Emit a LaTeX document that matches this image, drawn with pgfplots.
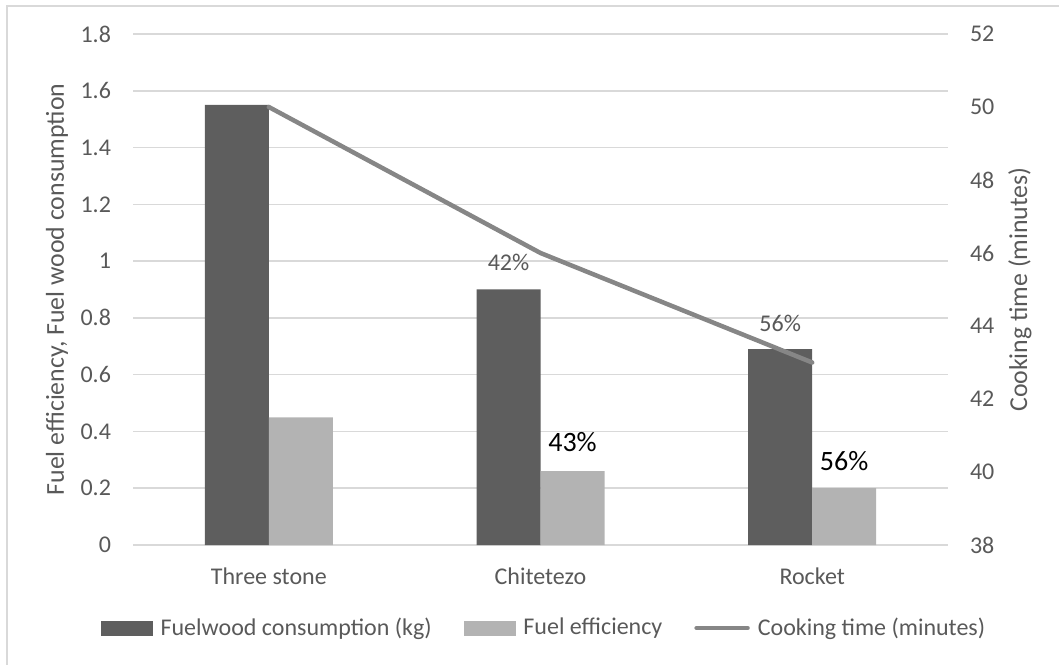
\documentclass[border=0pt]{standalone}
\usepackage{fontspec}
\setmainfont{Carlito}
\usepackage{pgfplots}
\pgfplotsset{compat=1.18}
\definecolor{textc}{HTML}{595959}
\definecolor{gridc}{HTML}{D9D9D9}
\definecolor{fuelwood}{HTML}{5E5E5E}
\definecolor{efficiency}{HTML}{B3B3B3}
\definecolor{cooking}{HTML}{868686}
\newcommand\chartfont{\fontsize{12}{14}\selectfont}
\newcommand\labelfont{\fontsize{12.9}{15}\selectfont}
\begin{document}
\begin{tikzpicture}[x=1pt,y=1pt]
\path[use as bounding box] (0,0) rectangle (529.5,332);
\draw[gridc, line width=0.75pt] (3.5,-2) -- (3.5,329) -- (532,329);
\pgfplotsset{
  stovebase/.style={
    at={(66.5pt,59.5pt)}, anchor=south west,
    scale only axis, width=407.5pt, height=255.5pt,
    xmin=-0.5, xmax=2.5,
    major tick length=0pt,
    tick label style={font=\chartfont, text=textc},
    /pgf/number format/assume math mode=true,
  }
}
% stove comparison: bars on the left scale
\begin{axis}[stovebase,
  ymin=0, ymax=1.8, ytick={0,0.2,0.4,0.6,0.8,1,1.2,1.4,1.6,1.8},
  xtick={0,1,2}, xticklabels={Three stone,Chitetezo,Rocket},
  axis line style={draw=none},
  ymajorgrids, grid style={gridc, line width=0.75pt},
  ybar=0pt, bar width=32pt,
  yticklabel style={anchor=east, xshift=-7.5pt},
  xticklabel style={anchor=north, yshift=-8pt},
  ylabel={Fuel efficiency, Fuel wood consumption},
  every axis y label/.style={at={(axis description cs:-0.0847,0.5)}, rotate=90,
    anchor=base, font=\labelfont, text=textc},
]
\addplot[fill=fuelwood, draw=none] coordinates {(0,1.55) (1,0.90) (2,0.69)};
\addplot[fill=efficiency, draw=none] coordinates {(0,0.45) (1,0.26) (2,0.20)};
\node[font=\chartfont, text=textc, xshift=-16pt] at (axis cs:1,0.995) {42\%};
\node[font=\fontsize{14}{16}\selectfont, text=black, xshift=16pt] at (axis cs:1,0.362) {43\%};
\node[font=\chartfont, text=textc, xshift=-16pt] at (axis cs:2,0.781) {56\%};
\node[font=\fontsize{14}{16}\selectfont, text=black, xshift=16pt] at (axis cs:2,0.295) {56\%};
\end{axis}
% cooking time on the right scale
\begin{axis}[stovebase,
  ymin=38, ymax=52, ytick={38,40,42,44,46,48,50,52},
  axis y line*=right, axis x line=none,
  y axis line style={draw=none},
  yticklabel style={anchor=west, xshift=7.5pt},
  ylabel={Cooking time (minutes)},
  every axis y label/.style={at={(axis description cs:1.097,0.5)}, rotate=90,
    anchor=base, font=\labelfont, text=textc},
  legend style={at={(axis description cs:0.5055,-0.1624)}, anchor=center,
    draw=none, fill=none, legend columns=3, font=\chartfont, text=textc,
    /tikz/every odd column/.append style={column sep=2pt},
    /tikz/every even column/.append style={column sep=14pt}},
  legend cell align=left,
]
\addlegendimage{legend image code/.code={\fill[fuelwood] (0pt,-3.5pt) rectangle (25.5pt,3.5pt);}}
\addlegendentry{Fuelwood consumption (kg)}
\addlegendimage{legend image code/.code={\fill[efficiency] (0pt,-3.5pt) rectangle (25.5pt,3.5pt);}}
\addlegendentry{Fuel efficiency}
\addplot[cooking, line width=2.25pt, line cap=round, line join=round,
  legend image code/.code={\draw[cooking, line width=2.25pt, line cap=round] (1pt,0pt) -- (26.5pt,0pt);}]
  coordinates {(0,50) (1,46) (2,43)};
\addlegendentry{Cooking time (minutes)}
\end{axis}
\end{tikzpicture}
\end{document}
